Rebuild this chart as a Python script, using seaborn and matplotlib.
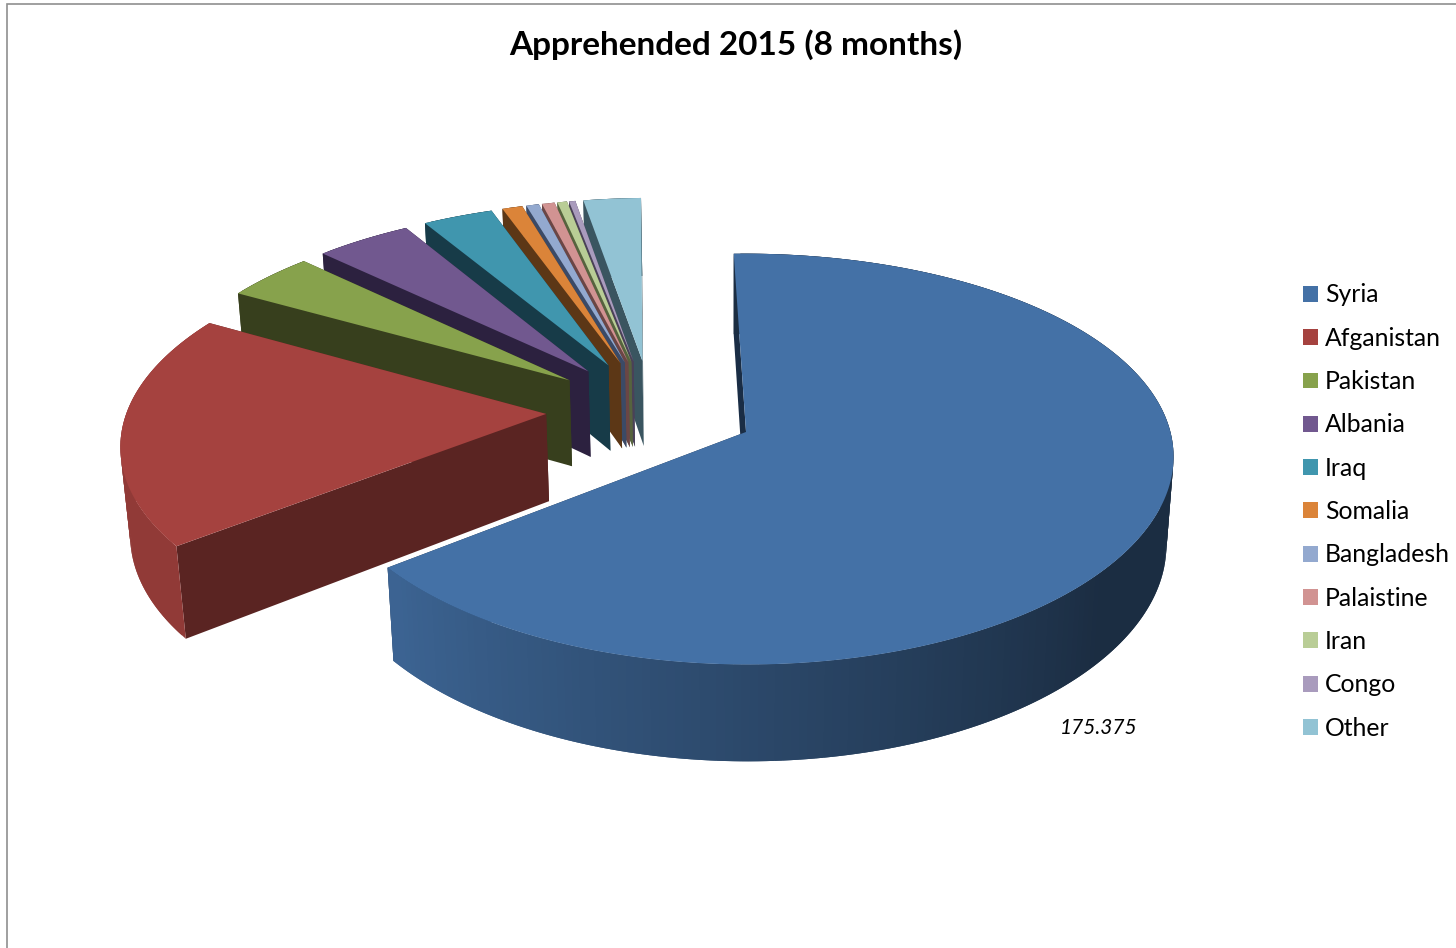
import numpy as np
import matplotlib
matplotlib.use("Agg")
import matplotlib.pyplot as plt
from matplotlib.patches import Patch, Polygon
import seaborn as sns

# data (only Syria is printed, the rest from the slice angles)
countries = ["Syria", "Afganistan", "Pakistan", "Albania", "Iraq", "Somalia",
             "Bangladesh", "Palaistine", "Iran", "Congo", "Other"]
apprehended = [175375, 50700, 10600, 11350, 8300, 2400, 1500, 1500, 1150, 750, 6800]
top_hex = ["#4471a6", "#a5423f", "#87a24c", "#71588f", "#4096ae", "#db8439",
           "#93a9cf", "#d19392", "#b9cd96", "#a99bbd", "#92c3d4"]
side_hex = ["#1a2d45", "#5a2422", "#373f1d", "#2c213f", "#173b48", "#5c3716",
            "#3b4a66", "#6b4645", "#56633e", "#4a4158", "#3a5560"]

sns.set_theme(style="white")
plt.rcParams['font.family'] = ['Lato', 'DejaVu Sans']

top_colors = sns.color_palette(top_hex)
side_colors = sns.color_palette(side_hex)

# camera of the fake 3D pie, in pixels of the final picture
VX, CY = 730, 410      # vanishing x, y of the pie plane
X0 = -79               # pie centre relative to VX
R, TILT = 419, 0.468   # radius, squash of depth
H = 88.5               # pie height
PX, PY, Q = 0.115, 0.13, 0.016  # perspective across, in depth and in height
EXPLODE_X, EXPLODE_Y = 0.25, 0.26
START = -1.6           # degrees clockwise from 12 o'clock


def project(x, y, z):
    wx = 1 + PX * y + Q * z
    wy = 1 + PY * y + Q * z
    return VX + (X0 + R * x) / wx, CY + (-R * TILT * y + H * z) / wy


def shade(angle):
    # outer wall goes from dark on the right to light on the left
    return np.clip(0.4 + (angle - 130) / 100 * 0.48, 0.4, 0.88)


fig, ax = plt.subplots(figsize=(14.56, 9.48), dpi=100)
fig.subplots_adjust(0, 0, 1, 1)
ax.set_xlim(0, 1456)
ax.set_ylim(948, 0)
ax.axis('off')

sweeps = np.array(apprehended) / sum(apprehended) * 360
starts = START + np.concatenate([[0], np.cumsum(sweeps)[:-1]])

# back to front: Other first, Syria last
for i in range(len(countries) - 1, -1, -1):
    a0, a1 = starts[i], starts[i] + sweeps[i]
    mid = np.radians((a0 + a1) / 2)
    ax0, ay0 = EXPLODE_X * np.sin(mid), EXPLODE_Y * np.cos(mid)
    ts = np.linspace(a0, a1, max(int(sweeps[i]), 2) + 1)
    xs = ax0 + np.sin(np.radians(ts))
    ys = ay0 + np.cos(np.radians(ts))

    # the two cut faces
    for k in [-1, 0]:
        quad = [project(ax0, ay0, 0), project(xs[k], ys[k], 0),
                project(xs[k], ys[k], 1), project(ax0, ay0, 1)]
        ax.add_patch(Polygon(quad, fc=side_colors[i], ec='none'))

    # rounded wall in thin strips, each one runs under the next so no seams show
    for j in range(len(ts) - 1):
        f = shade((ts[j] + ts[j + 1]) / 2)
        c = tuple(np.array(top_colors[i]) * f) if i < 2 else side_colors[i]
        n = min(j + 2, len(ts) - 1)
        quad = [project(xs[j], ys[j], 0), project(xs[n], ys[n], 0),
                project(xs[n], ys[n], 1), project(xs[j], ys[j], 1)]
        ax.add_patch(Polygon(quad, fc=c, ec='none'))

    top = [project(ax0, ay0, 0)] + [project(x, y, 0) for x, y in zip(xs, ys)]
    ax.add_patch(Polygon(top, fc=top_colors[i], ec='none'))

# chart frame, open on the right and at the bottom
ax.plot([7, 7, 1456], [948, 4, 4], color="#8f8f8f", lw=1.2, solid_joinstyle='miter')

ax.text(736, 45, "Apprehended 2015 (8 months)", ha='center', va='center',
        fontsize=24, fontweight='bold', color="black")
ax.text(1099, 728, "175.375", ha='center', va='center', fontsize=15,
        fontstyle='italic', color="black")

handles = [Patch(fc=c, ec='none', label=n) for c, n in zip(top_colors, countries)]
ax.legend(handles=handles, loc='upper left', bbox_to_anchor=(1303, 283.5),
          bbox_transform=ax.transData, frameon=False, fontsize=17.8, borderpad=0,
          borderaxespad=0, labelspacing=0.822, handlelength=0.607, handleheight=0.607,
          handletextpad=0.283, labelcolor="black")

plt.savefig('out.png', dpi=100)
